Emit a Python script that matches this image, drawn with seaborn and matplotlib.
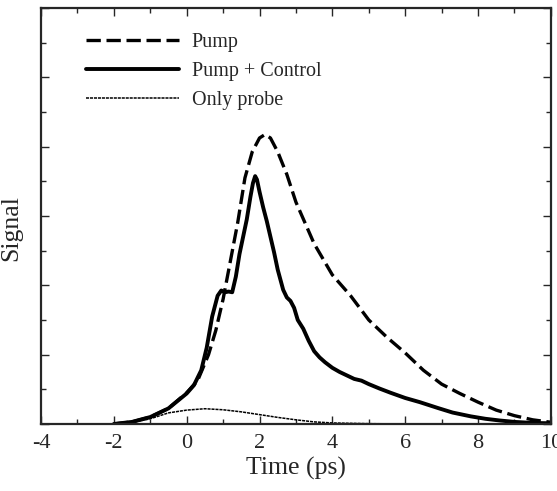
import numpy as np
import pandas as pd
import matplotlib
matplotlib.use('Agg')
import matplotlib.pyplot as plt
import seaborn as sns

# data (Signal in arbitrary units, 0..12 on the axis)
pump_t = [-2.0, -1.5, -1.0, -0.5, 0.0, 0.3, 0.6, 0.8, 1.0, 1.2, 1.4, 1.6, 1.8, 2.0, 2.15,
          2.3, 2.5, 2.75, 3.0, 3.5, 4.0, 4.5, 5.0, 5.5, 6.0, 6.5, 7.0, 7.5, 8.0, 8.5,
          9.0, 9.5, 10.0]
pump_s = [0.0, 0.06, 0.2, 0.45, 0.9, 1.25, 2.0, 2.7, 3.6, 4.7, 5.8, 7.1, 7.85, 8.25, 8.35,
          8.25, 7.85, 7.2, 6.4, 5.2, 4.3, 3.7, 3.0, 2.5, 2.05, 1.55, 1.15, 0.88, 0.63, 0.4,
          0.24, 0.12, 0.05]

ctrl_t = [-2.0, -1.5, -1.0, -0.5, 0.0, 0.2, 0.4, 0.55, 0.7, 0.85, 0.95, 1.05, 1.15, 1.25,
          1.35, 1.45, 1.55, 1.65, 1.75, 1.82, 1.88, 1.93, 2.0, 2.1, 2.2, 2.3, 2.4, 2.5,
          2.65, 2.75, 2.85, 2.95, 3.05, 3.2, 3.35, 3.5, 3.65, 3.8, 4.0, 4.2, 4.4, 4.6,
          4.8, 5.0, 5.3, 5.6, 6.0, 6.4, 6.9, 7.3, 7.8, 8.2, 8.6, 9.0, 9.5, 10.0]
ctrl_s = [0.0, 0.06, 0.2, 0.45, 0.88, 1.12, 1.55, 2.2, 3.1, 3.7, 3.85, 3.8, 3.82, 3.8,
          4.25, 4.9, 5.4, 5.9, 6.55, 6.95, 7.15, 7.05, 6.7, 6.25, 5.85, 5.4, 4.95, 4.45,
          3.87, 3.65, 3.55, 3.35, 3.0, 2.75, 2.4, 2.1, 1.92, 1.78, 1.62, 1.5, 1.4, 1.3,
          1.25, 1.15, 1.02, 0.9, 0.75, 0.63, 0.46, 0.33, 0.22, 0.15, 0.1, 0.06, 0.03, 0.02]

probe_t = [-2.0, -1.5, -1.0, -0.5, 0.0, 0.5, 1.0, 1.5, 2.0, 2.5, 3.0, 3.5, 4.0, 4.5,
           5.0, 6.0, 7.0, 8.0, 9.0, 10.0]
probe_s = [0.0, 0.04, 0.15, 0.32, 0.4, 0.44, 0.41, 0.35, 0.27, 0.19, 0.12, 0.06, 0.03,
           0.02, 0.01, 0.0, 0.0, 0.0, 0.0, 0.0]

labels = ['Pump', 'Pump + Control', 'Only probe']

sns.set_style('ticks')
plt.rcParams['font.family'] = ['Liberation Serif', 'DejaVu Serif']
plt.rcParams['axes.unicode_minus'] = False

fig = plt.figure(figsize=(5.57, 4.91), dpi=100)
ax = fig.add_axes([0.0736, 0.1365, 0.9154, 0.8472])

sns.lineplot(x=pump_t, y=pump_s, ax=ax, color='black', lw=2.4,
             linestyle=(0, (4.3, 1.7)), label=labels[0], errorbar=None)
sns.lineplot(x=ctrl_t, y=ctrl_s, ax=ax, color='black', lw=2.8,
             label=labels[1], errorbar=None)
sns.lineplot(x=probe_t, y=probe_s, ax=ax, color='black', lw=1.1,
             linestyle=(0, (2, 0.6)), label=labels[2], errorbar=None)

ax.set_xlim(-4, 10)
ax.set_ylim(0, 12)
ax.set_xticks(np.arange(-4, 11, 2))
ax.set_xticks(np.arange(-3, 10, 2), minor=True)
ax.set_yticks(np.arange(0, 13, 2))
ax.set_yticks(np.arange(1, 12, 2), minor=True)
ax.set_yticklabels([])
ax.tick_params(which='both', direction='in', top=True, right=True, width=1.0,
               labelsize=16, pad=7)
ax.tick_params(which='major', length=6)
ax.tick_params(which='minor', length=3.5)
for s in ax.spines.values():
    s.set_linewidth(1.6)

ax.set_xlabel('Time (ps)', fontsize=18.5, labelpad=3)
ax.set_ylabel('Signal', fontsize=18.5)
ax.yaxis.set_label_coords(-0.036, 0.47)

ax.legend(loc='upper left', bbox_to_anchor=(0.088, 0.94), frameon=False,
          fontsize=14.5, handlelength=4.6, handletextpad=0.65, labelspacing=0.5,
          borderpad=0, borderaxespad=0)

fig.savefig('out.png', dpi=100)
